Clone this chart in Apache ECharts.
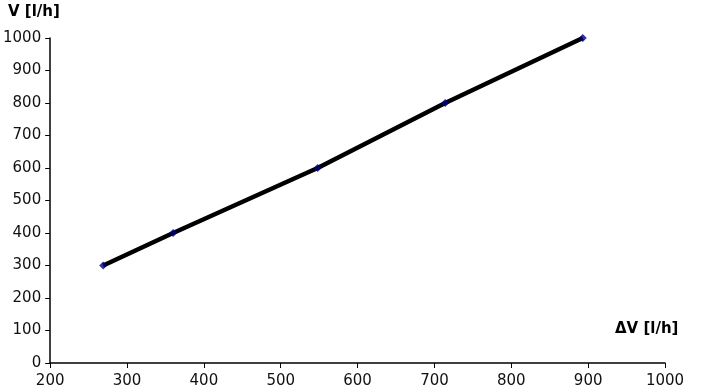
<!DOCTYPE html>
<html><head><meta charset="utf-8">
<script src="https://cdn.jsdelivr.net/npm/echarts@6/dist/echarts.min.js"></script>
<style>html,body{margin:0;padding:0;background:#fff}#c{width:718px;height:392px}</style>
</head><body><div id="c"></div>
<script>
var deltaV = [269, 360, 548, 714, 893];
var V = [300, 400, 600, 800, 1000];
var xName = 'ΔV [l/h]';
var yName = 'V [l/h]';
var pts = deltaV.map(function(x,i){return [x, V[i]];});
var chart = echarts.init(document.getElementById('c'), null, {renderer:'canvas'});
var lab = {color:'#111', fontFamily:'DejaVu Sans', fontSize:15, formatter:function(v){return String(v);}};
chart.setOption({
  animation:false,
  backgroundColor:'#fff',
  grid:{left:49, right:53, top:38, bottom:29, containLabel:false},
  xAxis:{type:'value', min:200, max:1000, interval:100,
    axisLine:{show:true, onZero:false, lineStyle:{color:'#000', width:1.5}},
    axisTick:{show:true, inside:false, length:5, lineStyle:{color:'#000'}},
    axisLabel:Object.assign({margin:11}, lab),
    splitLine:{show:false}},
  yAxis:{type:'value', min:0, max:1000, interval:100,
    axisLine:{show:true, onZero:false, lineStyle:{color:'#000', width:1.5}},
    axisTick:{show:true, inside:false, length:5, lineStyle:{color:'#000'}},
    axisLabel:Object.assign({margin:9}, lab),
    splitLine:{show:false}},
  graphic:[
    {type:'text', left:8, top:5, style:{text:yName, fill:'#000', font:'bold 15px DejaVu Sans'}},
    {type:'text', left:615, top:322, style:{text:xName, fill:'#000', font:'bold 15px DejaVu Sans'}}
  ],
  series:[
    {type:'line', data:pts, showSymbol:false, smooth:false,
     lineStyle:{color:'#000', width:4.5}, z:2},
    {type:'scatter', data:pts, symbol:'diamond', symbolSize:8,
     itemStyle:{color:'#000080'}, z:3}
  ]
});
</script></body></html>
